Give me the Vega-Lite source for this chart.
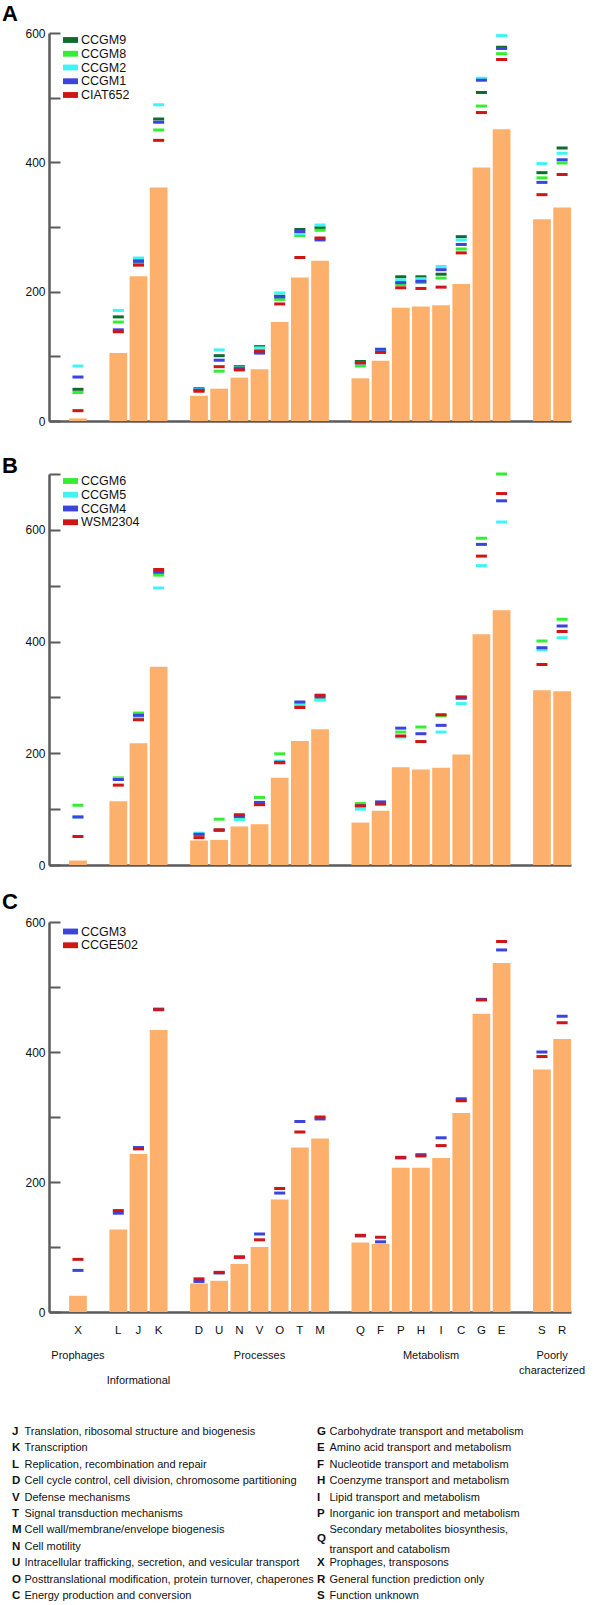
{
  "$schema": "https://vega.github.io/schema/vega-lite/v6.json",
  "background": "white",
  "padding": {"left": 2, "top": 3, "right": 4, "bottom": 2},
  "spacing": 14,
  "bounds": "full",
  "config": {
    "font": "Liberation Sans",
    "view": {"stroke": null},
    "axis": {"domainColor": "#5b5b5b", "domainWidth": 2.5, "tickColor": "#5b5b5b", "tickWidth": 2, "labelColor": "#111111", "labelFont": "Liberation Sans", "grid": false, "title": null},
    "legend": {"orient": "none", "title": null, "symbolType": "M-1.15,-0.45H1.15V0.45H-1.15Z", "symbolSize": 169, "symbolStrokeWidth": 0, "symbolOpacity": 1, "labelFontSize": 12.5, "labelFont": "Liberation Sans", "labelColor": "#111111", "labelOffset": 4, "rowPadding": 0.75, "padding": 0, "legendX": 15, "legendY": 0.5},
    "title": {"font": "Liberation Sans", "fontWeight": "bold", "fontSize": 22, "anchor": "start", "frame": "group", "color": "#000000", "dx": -47}
  },
  "resolve": {
    "scale": {"x": "independent", "y": "independent", "color": "independent"},
    "axis": {"x": "independent", "y": "independent"},
    "legend": {"color": "independent"}
  },
  "datasets": {
    "bars": [
      {"panel": "A", "cog": "X", "value": 4}, {"panel": "A", "cog": "L", "value": 105}, {"panel": "A", "cog": "J", "value": 224}, {"panel": "A", "cog": "K", "value": 361},
      {"panel": "A", "cog": "D", "value": 39}, {"panel": "A", "cog": "U", "value": 50}, {"panel": "A", "cog": "N", "value": 67}, {"panel": "A", "cog": "V", "value": 80},
      {"panel": "A", "cog": "O", "value": 153}, {"panel": "A", "cog": "T", "value": 222}, {"panel": "A", "cog": "M", "value": 248}, {"panel": "A", "cog": "Q", "value": 66},
      {"panel": "A", "cog": "F", "value": 93}, {"panel": "A", "cog": "P", "value": 175}, {"panel": "A", "cog": "H", "value": 177}, {"panel": "A", "cog": "I", "value": 179},
      {"panel": "A", "cog": "C", "value": 212}, {"panel": "A", "cog": "G", "value": 392}, {"panel": "A", "cog": "E", "value": 451}, {"panel": "A", "cog": "S", "value": 312},
      {"panel": "A", "cog": "R", "value": 330},
      {"panel": "B", "cog": "X", "value": 8}, {"panel": "B", "cog": "L", "value": 114}, {"panel": "B", "cog": "J", "value": 218}, {"panel": "B", "cog": "K", "value": 355},
      {"panel": "B", "cog": "D", "value": 44}, {"panel": "B", "cog": "U", "value": 45}, {"panel": "B", "cog": "N", "value": 69}, {"panel": "B", "cog": "V", "value": 73},
      {"panel": "B", "cog": "O", "value": 156}, {"panel": "B", "cog": "T", "value": 222}, {"panel": "B", "cog": "M", "value": 243}, {"panel": "B", "cog": "Q", "value": 76},
      {"panel": "B", "cog": "F", "value": 97}, {"panel": "B", "cog": "P", "value": 175}, {"panel": "B", "cog": "H", "value": 171}, {"panel": "B", "cog": "I", "value": 174},
      {"panel": "B", "cog": "C", "value": 198}, {"panel": "B", "cog": "G", "value": 413}, {"panel": "B", "cog": "E", "value": 456}, {"panel": "B", "cog": "S", "value": 313},
      {"panel": "B", "cog": "R", "value": 311},
      {"panel": "C", "cog": "X", "value": 25}, {"panel": "C", "cog": "L", "value": 127}, {"panel": "C", "cog": "J", "value": 243}, {"panel": "C", "cog": "K", "value": 434},
      {"panel": "C", "cog": "D", "value": 44}, {"panel": "C", "cog": "U", "value": 48}, {"panel": "C", "cog": "N", "value": 74}, {"panel": "C", "cog": "V", "value": 100},
      {"panel": "C", "cog": "O", "value": 173}, {"panel": "C", "cog": "T", "value": 253}, {"panel": "C", "cog": "M", "value": 267}, {"panel": "C", "cog": "Q", "value": 107},
      {"panel": "C", "cog": "F", "value": 105}, {"panel": "C", "cog": "P", "value": 222}, {"panel": "C", "cog": "H", "value": 222}, {"panel": "C", "cog": "I", "value": 237},
      {"panel": "C", "cog": "C", "value": 306}, {"panel": "C", "cog": "G", "value": 459}, {"panel": "C", "cog": "E", "value": 537}, {"panel": "C", "cog": "S", "value": 373},
      {"panel": "C", "cog": "R", "value": 420}
    ],
    "strainsA": [
      {"cog": "X", "CCGM9": 49, "CCGM8": 44, "CCGM2": 85, "CCGM1": 68, "CIAT652": 16},
      {"cog": "L", "CCGM9": 161, "CCGM8": 153, "CCGM2": 171, "CCGM1": 141, "CIAT652": 138},
      {"cog": "J", "CCGM9": 249, "CCGM8": 245, "CCGM2": 252, "CCGM1": 247, "CIAT652": 241},
      {"cog": "K", "CCGM9": 467, "CCGM8": 450, "CCGM2": 489, "CCGM1": 462, "CIAT652": 434},
      {"cog": "D", "CCGM9": 50, "CCGM8": 48, "CCGM2": 49, "CCGM1": 48, "CIAT652": 46},
      {"cog": "U", "CCGM9": 101, "CCGM8": 77, "CCGM2": 110, "CCGM1": 94, "CIAT652": 84},
      {"cog": "N", "CCGM9": 84, "CCGM8": 81, "CCGM2": 82, "CCGM1": 81, "CIAT652": 79},
      {"cog": "V", "CCGM9": 115, "CCGM8": 112, "CCGM2": 113, "CCGM1": 105, "CIAT652": 108},
      {"cog": "O", "CCGM9": 193, "CCGM8": 188, "CCGM2": 198, "CCGM1": 192, "CIAT652": 181},
      {"cog": "T", "CCGM9": 296, "CCGM8": 287, "CCGM2": 290, "CCGM1": 293, "CIAT652": 253},
      {"cog": "M", "CCGM9": 299, "CCGM8": 295, "CCGM2": 303, "CCGM1": 280, "CIAT652": 283},
      {"cog": "Q", "CCGM9": 92, "CCGM8": 85, "CCGM2": 90, "CCGM1": 90, "CIAT652": 90},
      {"cog": "F", "CCGM9": 108, "CCGM8": 107, "CCGM2": 110, "CCGM1": 111, "CIAT652": 106},
      {"cog": "P", "CCGM9": 223, "CCGM8": 211, "CCGM2": 218, "CCGM1": 214, "CIAT652": 206},
      {"cog": "H", "CCGM9": 223, "CCGM8": 214, "CCGM2": 220, "CCGM1": 216, "CIAT652": 205},
      {"cog": "I", "CCGM9": 227, "CCGM8": 221, "CCGM2": 239, "CCGM1": 234, "CIAT652": 207},
      {"cog": "C", "CCGM9": 285, "CCGM8": 266, "CCGM2": 280, "CCGM1": 273, "CIAT652": 260},
      {"cog": "G", "CCGM9": 508, "CCGM8": 487, "CCGM2": 530, "CCGM1": 527, "CIAT652": 477},
      {"cog": "E", "CCGM9": 578, "CCGM8": 568, "CCGM2": 596, "CCGM1": 576, "CIAT652": 559},
      {"cog": "S", "CCGM9": 384, "CCGM8": 376, "CCGM2": 398, "CCGM1": 369, "CIAT652": 350},
      {"cog": "R", "CCGM9": 422, "CCGM8": 399, "CCGM2": 414, "CCGM1": 404, "CIAT652": 381}
    ],
    "strainsB": [
      {"cog": "X", "CCGM6": 107, "CCGM5": 86, "CCGM4": 86, "WSM2304": 51},
      {"cog": "L", "CCGM6": 156, "CCGM5": 154, "CCGM4": 153, "WSM2304": 143},
      {"cog": "J", "CCGM6": 272, "CCGM5": 264, "CCGM4": 268, "WSM2304": 260},
      {"cog": "K", "CCGM6": 519, "CCGM5": 496, "CCGM4": 524, "WSM2304": 529},
      {"cog": "D", "CCGM6": 54, "CCGM5": 57, "CCGM4": 55, "WSM2304": 49},
      {"cog": "U", "CCGM6": 82, "CCGM5": 63, "CCGM4": 62, "WSM2304": 63},
      {"cog": "N", "CCGM6": 85, "CCGM5": 81, "CCGM4": 87, "WSM2304": 90},
      {"cog": "V", "CCGM6": 121, "CCGM5": 110, "CCGM4": 112, "WSM2304": 108},
      {"cog": "O", "CCGM6": 199, "CCGM5": 186, "CCGM4": 184, "WSM2304": 183},
      {"cog": "T", "CCGM6": 285, "CCGM5": 289, "CCGM4": 292, "WSM2304": 282},
      {"cog": "M", "CCGM6": 296, "CCGM5": 295, "CCGM4": 301, "WSM2304": 304},
      {"cog": "Q", "CCGM6": 110, "CCGM5": 100, "CCGM4": 106, "WSM2304": 106},
      {"cog": "F", "CCGM6": 110, "CCGM5": 110, "CCGM4": 113, "WSM2304": 109},
      {"cog": "P", "CCGM6": 238, "CCGM5": 229, "CCGM4": 245, "WSM2304": 231},
      {"cog": "H", "CCGM6": 247, "CCGM5": 221, "CCGM4": 235, "WSM2304": 221},
      {"cog": "I", "CCGM6": 267, "CCGM5": 238, "CCGM4": 250, "WSM2304": 269},
      {"cog": "C", "CCGM6": 298, "CCGM5": 289, "CCGM4": 299, "WSM2304": 301},
      {"cog": "G", "CCGM6": 585, "CCGM5": 536, "CCGM4": 574, "WSM2304": 553},
      {"cog": "E", "CCGM6": 700, "CCGM5": 614, "CCGM4": 652, "WSM2304": 665},
      {"cog": "S", "CCGM6": 401, "CCGM5": 385, "CCGM4": 389, "WSM2304": 359},
      {"cog": "R", "CCGM6": 440, "CCGM5": 407, "CCGM4": 428, "WSM2304": 418}
    ],
    "strainsC": [
      {"cog": "X", "CCGM3": 64, "CCGE502": 81},
      {"cog": "L", "CCGM3": 152, "CCGE502": 156},
      {"cog": "J", "CCGM3": 253, "CCGE502": 251},
      {"cog": "K", "CCGM3": 466, "CCGE502": 465},
      {"cog": "D", "CCGM3": 47, "CCGE502": 51},
      {"cog": "U", "CCGM3": 60, "CCGE502": 61},
      {"cog": "N", "CCGM3": 85, "CCGE502": 84},
      {"cog": "V", "CCGM3": 120, "CCGE502": 111},
      {"cog": "O", "CCGM3": 183, "CCGE502": 190},
      {"cog": "T", "CCGM3": 293, "CCGE502": 277},
      {"cog": "M", "CCGM3": 297, "CCGE502": 300},
      {"cog": "Q", "CCGM3": 117, "CCGE502": 118},
      {"cog": "F", "CCGM3": 108, "CCGE502": 115},
      {"cog": "P", "CCGM3": 237, "CCGE502": 238},
      {"cog": "H", "CCGM3": 242, "CCGE502": 240},
      {"cog": "I", "CCGM3": 268, "CCGE502": 256},
      {"cog": "C", "CCGM3": 328, "CCGE502": 325},
      {"cog": "G", "CCGM3": 481, "CCGE502": 480},
      {"cog": "E", "CCGM3": 557, "CCGE502": 570},
      {"cog": "S", "CCGM3": 400, "CCGE502": 393},
      {"cog": "R", "CCGM3": 455, "CCGE502": 445}
    ],
    "groups": [
      {"label": "Prophages", "anchor": "X", "tier": 1},
      {"label": "Informational", "anchor": "J", "tier": 2},
      {"label": "Processes", "anchor": "V", "tier": 1},
      {"label": "Metabolism", "anchor": "H", "tier": 1},
      {"label": "Poorly\ncharacterized", "anchor": "S", "tier": 1}
    ],
    "cogdesc": [
      {"col": "left", "line": 1, "code": "J", "desc": "Translation, ribosomal structure and biogenesis"},
      {"col": "left", "line": 2, "code": "K", "desc": "Transcription"},
      {"col": "left", "line": 3, "code": "L", "desc": "Replication, recombination and repair"},
      {"col": "left", "line": 4, "code": "D", "desc": "Cell cycle control, cell division, chromosome partitioning"},
      {"col": "left", "line": 5, "code": "V", "desc": "Defense mechanisms"},
      {"col": "left", "line": 6, "code": "T", "desc": "Signal transduction mechanisms"},
      {"col": "left", "line": 7, "code": "M", "desc": "Cell wall/membrane/envelope biogenesis"},
      {"col": "left", "line": 8, "code": "N", "desc": "Cell motility"},
      {"col": "left", "line": 9, "code": "U", "desc": "Intracellular trafficking, secretion, and vesicular transport"},
      {"col": "left", "line": 10, "code": "O", "desc": "Posttranslational modification, protein turnover, chaperones"},
      {"col": "left", "line": 11, "code": "C", "desc": "Energy production and conversion"},
      {"col": "right", "line": 1, "code": "G", "desc": "Carbohydrate transport and metabolism"},
      {"col": "right", "line": 2, "code": "E", "desc": "Amino acid transport and metabolism"},
      {"col": "right", "line": 3, "code": "F", "desc": "Nucleotide transport and metabolism"},
      {"col": "right", "line": 4, "code": "H", "desc": "Coenzyme transport and metabolism"},
      {"col": "right", "line": 5, "code": "I", "desc": "Lipid transport and metabolism"},
      {"col": "right", "line": 6, "code": "P", "desc": "Inorganic ion transport and metabolism"},
      {"col": "right", "line": 7, "code": "", "desc": "Secondary metabolites biosynthesis,"},
      {"col": "right", "line": 7.5, "code": "Q", "desc": ""},
      {"col": "right", "line": 8.2, "code": "", "desc": "transport and catabolism"},
      {"col": "right", "line": 9, "code": "X", "desc": "Prophages, transposons"},
      {"col": "right", "line": 10, "code": "R", "desc": "General function prediction only"},
      {"col": "right", "line": 11, "code": "S", "desc": "Function unknown"}
    ]
  },
  "vconcat": [
    {
      "width": 522, "height": 388,
      "title": {"text": "A", "offset": 1},
      "layer": [
        {
          "data": {"name": "bars"},
          "transform": [{"filter": "datum.panel === 'A'"}],
          "mark": {"type": "bar", "color": "#FDB06B"},
          "encoding": {
            "x": {"field": "cog", "type": "nominal", "scale": {"type": "band", "domain": ["X", "_1", "L", "J", "K", "_2", "D", "U", "N", "V", "O", "T", "M", "_3", "Q", "F", "P", "H", "I", "C", "G", "E", "_4", "S", "R"], "paddingInner": 0.12, "paddingOuter": 0.498, "align": 1}, "axis": {"labels": false, "ticks": false, "minExtent": 19}},
            "y": {"field": "value", "type": "quantitative", "scale": {"domain": [0, 600], "nice": false}, "axis": {"values": [0, 100, 200, 300, 400, 500, 600], "labelExpr": "datum.value % 200 === 0 ? datum.label : ''", "tickSize": -11, "labelPadding": 15, "labelFontSize": 12}}
          }
        },
        {
          "data": {"name": "strainsA"},
          "transform": [{"fold": ["CCGM9", "CCGM8", "CCGM2", "CCGM1", "CIAT652"], "as": ["strain", "value"]}],
          "mark": {"type": "tick", "size": 11, "thickness": 3, "opacity": 1},
          "encoding": {
            "x": {"field": "cog", "type": "nominal", "scale": {"type": "band", "domain": ["X", "_1", "L", "J", "K", "_2", "D", "U", "N", "V", "O", "T", "M", "_3", "Q", "F", "P", "H", "I", "C", "G", "E", "_4", "S", "R"], "paddingInner": 0.12, "paddingOuter": 0.498, "align": 1}},
            "y": {"field": "value", "type": "quantitative"},
            "color": {"field": "strain", "type": "nominal", "scale": {"domain": ["CCGM9", "CCGM8", "CCGM2", "CCGM1", "CIAT652"], "range": ["#0f6b2e", "#33ee33", "#40f4f4", "#3b44dd", "#d01515"]}, "legend": {}}
          }
        }
      ]
    },
    {
      "width": 522, "height": 391,
      "title": {"text": "B", "offset": -5},
      "layer": [
        {
          "data": {"name": "bars"},
          "transform": [{"filter": "datum.panel === 'B'"}],
          "mark": {"type": "bar", "color": "#FDB06B"},
          "encoding": {
            "x": {"field": "cog", "type": "nominal", "scale": {"type": "band", "domain": ["X", "_1", "L", "J", "K", "_2", "D", "U", "N", "V", "O", "T", "M", "_3", "Q", "F", "P", "H", "I", "C", "G", "E", "_4", "S", "R"], "paddingInner": 0.12, "paddingOuter": 0.498, "align": 1}, "axis": {"labels": false, "ticks": false, "minExtent": 12}},
            "y": {"field": "value", "type": "quantitative", "scale": {"domain": [0, 700], "nice": false}, "axis": {"values": [0, 100, 200, 300, 400, 500, 600, 700], "labelExpr": "datum.value % 200 === 0 ? datum.label : ''", "tickSize": -11, "labelPadding": 15, "labelFontSize": 12}}
          }
        },
        {
          "data": {"name": "strainsB"},
          "transform": [{"fold": ["CCGM6", "CCGM5", "CCGM4", "WSM2304"], "as": ["strain", "value"]}],
          "mark": {"type": "tick", "size": 11, "thickness": 3, "opacity": 1},
          "encoding": {
            "x": {"field": "cog", "type": "nominal", "scale": {"type": "band", "domain": ["X", "_1", "L", "J", "K", "_2", "D", "U", "N", "V", "O", "T", "M", "_3", "Q", "F", "P", "H", "I", "C", "G", "E", "_4", "S", "R"], "paddingInner": 0.12, "paddingOuter": 0.498, "align": 1}},
            "y": {"field": "value", "type": "quantitative"},
            "color": {"field": "strain", "type": "nominal", "scale": {"domain": ["CCGM6", "CCGM5", "CCGM4", "WSM2304"], "range": ["#33ee33", "#40f4f4", "#3b44dd", "#d01515"]}, "legend": {}}
          }
        }
      ]
    },
    {
      "width": 522, "height": 390,
      "title": {"text": "C", "offset": 2},
      "layer": [
        {
          "data": {"name": "bars"},
          "transform": [{"filter": "datum.panel === 'C'"}],
          "mark": {"type": "bar", "color": "#FDB06B"},
          "encoding": {
            "x": {"field": "cog", "type": "nominal", "scale": {"type": "band", "domain": ["X", "_1", "L", "J", "K", "_2", "D", "U", "N", "V", "O", "T", "M", "_3", "Q", "F", "P", "H", "I", "C", "G", "E", "_4", "S", "R"], "paddingInner": 0.12, "paddingOuter": 0.498, "align": 1}, "axis": {"ticks": false, "labelPadding": 12, "labelFontSize": 11.5, "labelAngle": 0, "labelExpr": "length(datum.label) > 1 ? '' : datum.label"}},
            "y": {"field": "value", "type": "quantitative", "scale": {"domain": [0, 600], "nice": false}, "axis": {"values": [0, 100, 200, 300, 400, 500, 600], "labelExpr": "datum.value % 200 === 0 ? datum.label : ''", "tickSize": -11, "labelPadding": 15, "labelFontSize": 12}}
          }
        },
        {
          "data": {"name": "strainsC"},
          "transform": [{"fold": ["CCGM3", "CCGE502"], "as": ["strain", "value"]}],
          "mark": {"type": "tick", "size": 11, "thickness": 3, "opacity": 1},
          "encoding": {
            "x": {"field": "cog", "type": "nominal", "scale": {"type": "band", "domain": ["X", "_1", "L", "J", "K", "_2", "D", "U", "N", "V", "O", "T", "M", "_3", "Q", "F", "P", "H", "I", "C", "G", "E", "_4", "S", "R"], "paddingInner": 0.12, "paddingOuter": 0.498, "align": 1}},
            "y": {"field": "value", "type": "quantitative"},
            "color": {"field": "strain", "type": "nominal", "scale": {"domain": ["CCGM3", "CCGE502"], "range": ["#3b44dd", "#d01515"]}, "legend": {"legendY": 3}}
          }
        }
      ]
    },
    {
      "width": 522, "height": 62,
      "data": {"name": "groups"},
      "layer": [
        {
          "transform": [{"filter": {"field": "label", "oneOf": ["Prophages", "Informational", "Processes"]}}],
          "mark": {"type": "text", "align": "center", "baseline": "top", "fontSize": 11, "color": "#111111"},
          "encoding": {
            "x": {"field": "anchor", "type": "nominal", "scale": {"type": "band", "domain": ["X", "_1", "L", "J", "K", "_2", "D", "U", "N", "V", "O", "T", "M", "_3", "Q", "F", "P", "H", "I", "C", "G", "E", "_4", "S", "R"], "paddingInner": 0.12, "paddingOuter": 0.498, "align": 1}, "axis": null},
            "y": {"field": "tier", "type": "quantitative", "scale": {"domain": [1, 3.48], "reverse": true, "nice": false, "zero": false}, "axis": null},
            "text": {"field": "label"}
          }
        },
        {
          "transform": [{"filter": {"field": "label", "oneOf": ["Metabolism", "Poorly\ncharacterized"]}}],
          "mark": {"type": "text", "align": "center", "baseline": "top", "fontSize": 11, "color": "#111111", "lineBreak": "\n", "lineHeight": 15},
          "encoding": {
            "x": {"field": "anchor", "type": "nominal", "bandPosition": 1.07, "scale": {"type": "band", "domain": ["X", "_1", "L", "J", "K", "_2", "D", "U", "N", "V", "O", "T", "M", "_3", "Q", "F", "P", "H", "I", "C", "G", "E", "_4", "S", "R"], "paddingInner": 0.12, "paddingOuter": 0.498, "align": 1}, "axis": null},
            "y": {"field": "tier", "type": "quantitative", "scale": {"domain": [1, 3.48], "reverse": true, "nice": false, "zero": false}, "axis": null},
            "text": {"field": "label"}
          }
        }
      ]
    },
    {
      "width": 522, "height": 164,
      "data": {"name": "cogdesc"},
      "layer": [
        {
          "mark": {"type": "text", "align": "left", "baseline": "middle", "fontSize": 11.5, "fontWeight": "bold", "color": "#111111"},
          "encoding": {
            "x": {"field": "col", "type": "nominal", "scale": {"type": "point", "domain": ["left", "right"], "range": [-37, 268], "padding": 0}, "axis": null},
            "y": {"field": "line", "type": "quantitative", "scale": {"domain": [1, 11], "reverse": true, "nice": false, "zero": false}, "axis": null},
            "text": {"field": "code"}
          }
        },
        {
          "mark": {"type": "text", "align": "left", "baseline": "middle", "fontSize": 11, "color": "#111111", "dx": 12.5},
          "encoding": {
            "x": {"field": "col", "type": "nominal", "scale": {"type": "point", "domain": ["left", "right"], "range": [-37, 268], "padding": 0}, "axis": null},
            "y": {"field": "line", "type": "quantitative", "scale": {"domain": [1, 11], "reverse": true, "nice": false, "zero": false}, "axis": null},
            "text": {"field": "desc"}
          }
        }
      ]
    }
  ]
}
